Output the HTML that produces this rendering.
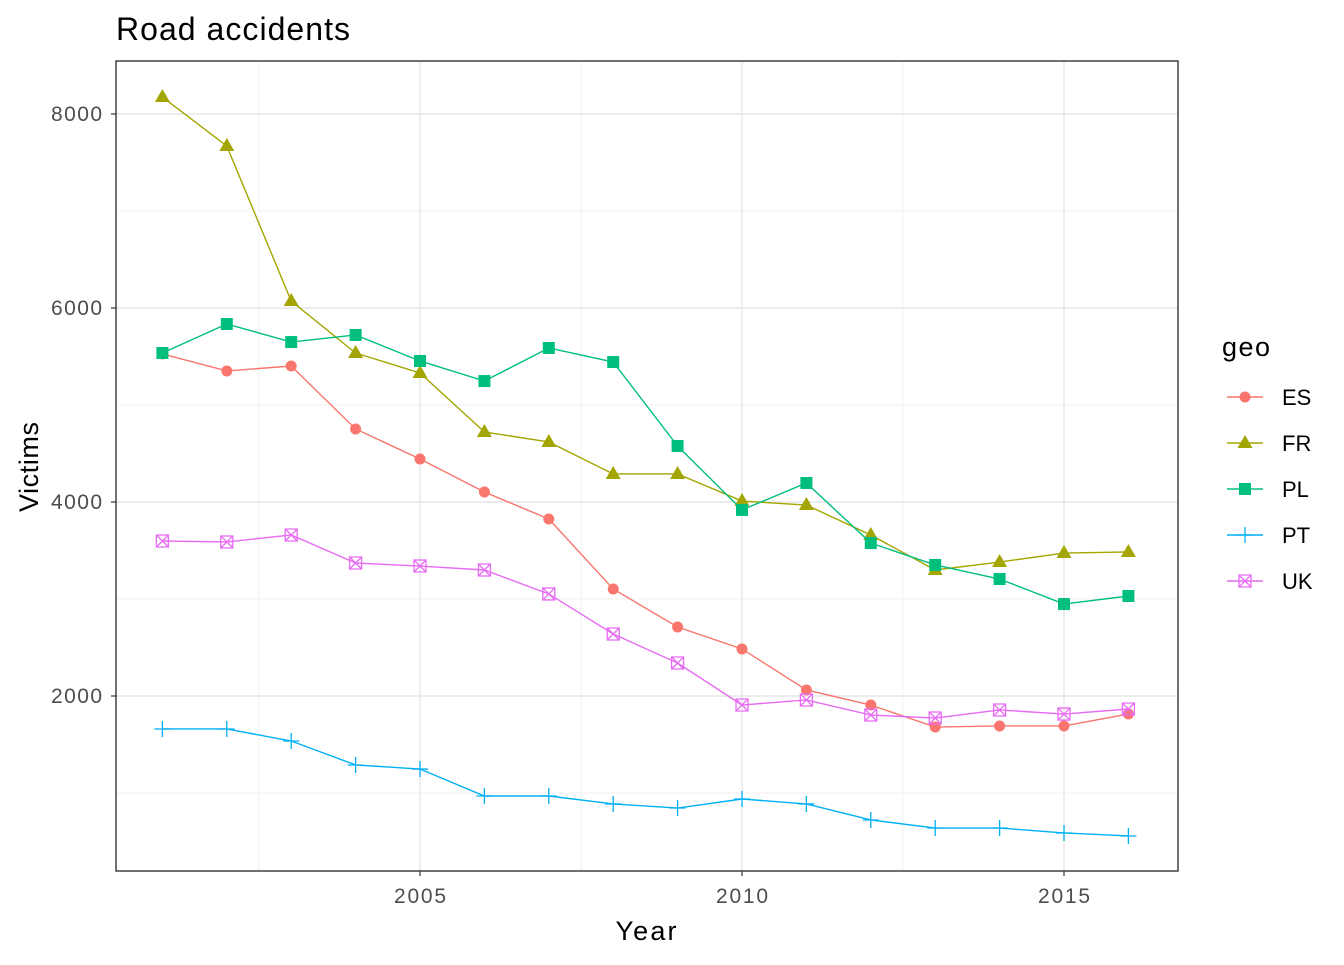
<!DOCTYPE html>
<html><head><meta charset="utf-8"><style>
body{margin:0;background:#fff}
svg text{font-family:"Liberation Sans",Arial,sans-serif}
</style></head><body>
<svg id="c" width="1344" height="960" xmlns="http://www.w3.org/2000/svg">
<rect width="1344" height="960" fill="#fff"/>
<text x="116" y="40" font-size="32" textLength="234" fill="#000">Road accidents</text>
<g id="grid"></g><g id="series"></g><g id="axes"></g><g id="legend"></g>
</svg>
<script>
const years=[2001,2002,2003,2004,2005,2006,2007,2008,2009,2010,2011,2012,2013,2014,2015,2016];
const geoNames=["ES","FR","PL","PT","UK"];
const esValues=[5526,5351,5402,4753,4443,4103,3825,3103,2711,2485,2062,1907,1680,1691,1691,1814];
const frValues=[8175,7670,6072,5536,5330,4722,4619,4289,4289,4010,3969,3660,3299,3381,3474,3485];
const plValues=[5536,5835,5649,5722,5454,5247,5588,5443,4577,3918,4196,3577,3351,3206,2948,3031];
const ptValues=[1660,1660,1536,1289,1247,969,969,887,845,938,887,722,639,639,588,557];
const ukValues=[3598,3588,3660,3371,3340,3299,3052,2639,2340,1907,1959,1804,1773,1856,1814,1866];
const yTicks=[2000,4000,6000,8000];
const yMinor=[1000,3000,5000,7000];
const xTicks=[2005,2010,2015];
const xMinor=[2002.5,2007.5,2012.5];
const colors=["#F8766D","#A3A500","#00BF7D","#00B0F6","#E76BF3"];
const NS="http://www.w3.org/2000/svg";
const PL={l:116,r:1178,t:61,b:871};
const xs=v=>420+(v-2005)*64.4;
const ys=v=>696-(v-2000)*0.097;
function mk(tag,attrs,parent){const e=document.createElementNS(NS,tag);for(const k in attrs)e.setAttribute(k,attrs[k]);parent.appendChild(e);return e;}
const grid=document.getElementById('grid'),axes=document.getElementById('axes'),ser=document.getElementById('series'),leg=document.getElementById('legend');
yMinor.forEach(v=>{const l=mk('line',{x1:PL.l,x2:PL.r,y1:ys(v),y2:ys(v),stroke:'#f0f0f0','stroke-width':1},grid);

});
xMinor.forEach(v=>{const l=mk('line',{x1:xs(v),x2:xs(v),y1:PL.t,y2:PL.b,stroke:'#f0f0f0','stroke-width':1},grid);

});
yTicks.forEach(v=>{const l=mk('line',{x1:PL.l,x2:PL.r,y1:ys(v),y2:ys(v),stroke:'#e6e6e6','stroke-width':1.4},grid);


const tk=mk('line',{x1:PL.l-5,x2:PL.l,y1:ys(v),y2:ys(v),stroke:'#333','stroke-width':1.2},axes);


const t=mk('text',{x:PL.l-14,y:ys(v)+7,'text-anchor':'end','font-size':21,textLength:51,fill:'#4d4d4d'},axes);t.textContent=v;

});
xTicks.forEach(v=>{const l=mk('line',{x1:xs(v),x2:xs(v),y1:PL.t,y2:PL.b,stroke:'#e6e6e6','stroke-width':1.4},grid);


const tk=mk('line',{x1:xs(v),x2:xs(v),y1:PL.b,y2:PL.b+5,stroke:'#333','stroke-width':1.2},axes);


const t=mk('text',{x:xs(v),y:PL.b+32,'text-anchor':'middle','font-size':21,textLength:52,fill:'#4d4d4d'},axes);t.textContent=v;

});
const fr=mk('rect',{x:PL.l,y:PL.t,width:PL.r-PL.l,height:PL.b-PL.t,fill:'none',stroke:'#333','stroke-width':1.4},axes);


const xt=mk('text',{x:646,y:940,'text-anchor':'middle','font-size':27,textLength:61},axes);xt.textContent='Year';


const yt=mk('text',{x:38,y:467,'text-anchor':'middle','font-size':27,textLength:90,transform:'rotate(-90 38 467)'},axes);yt.textContent='Victims';


function marker(i,x,y,g){const c=colors[i];let e;
 if(i===0){e=mk('circle',{cx:x,cy:y,r:5.5,fill:c},g);}
 else if(i===1){e=mk('path',{d:`M${x},${y-8}L${x+7.5},${y+5}L${x-7.5},${y+5}Z`,fill:c},g);}
 else if(i===2){e=mk('rect',{x:x-6,y:y-6,width:12,height:12,fill:c},g);}
 else if(i===3){e=mk('path',{d:`M${x-8},${y}H${x+8}M${x},${y-8}V${y+8}`,stroke:c,'stroke-width':1.3,fill:'none'},g);}
 else {e=mk('path',{d:`M${x-6},${y-6}h12v12h-12zM${x-6},${y-6}L${x+6},${y+6}M${x+6},${y-6}L${x-6},${y+6}`,stroke:c,'stroke-width':1.3,fill:'none'},g);}
 return e;}
const allVals=[esValues,frValues,plValues,ptValues,ukValues];
allVals.forEach((vals,i)=>{const g=mk('g',{},ser);


const p=mk('polyline',{points:vals.map((v,j)=>xs(years[j])+','+ys(v)).join(' '),fill:'none',stroke:colors[i],'stroke-width':1.4},g);


vals.forEach((v,j)=>{const m=marker(i,xs(years[j]),ys(v),g);

});});
const lt=mk('text',{x:1222,y:356,'font-size':27,textLength:48},leg);lt.textContent='geo';


geoNames.forEach((n,i)=>{const y=397+i*46;const g=mk('g',{},leg);


mk('line',{x1:1227,x2:1263,y1:y,y2:y,stroke:colors[i],'stroke-width':1.4},g);
marker(i,1245,y,g);
const t=mk('text',{x:1282,y:y+8,'font-size':22},g);t.textContent=n;

});
</script>
</body></html>
